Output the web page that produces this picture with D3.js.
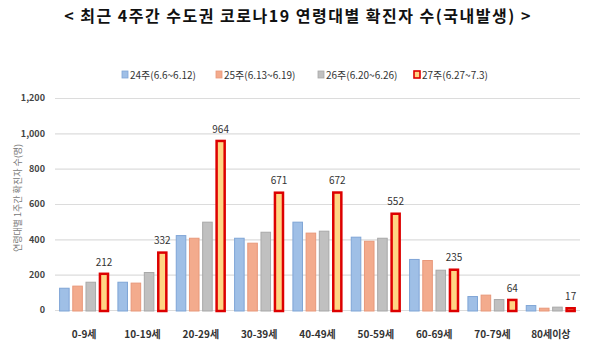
<!DOCTYPE html>
<html><head><meta charset="utf-8">
<script src="https://cdn.jsdelivr.net/npm/d3@7"></script>
<style>
body{margin:0;background:#fff;}
svg{display:block;}
</style></head>
<body>
<svg id="c" width="609" height="357"></svg>
<script>
const categories = ["0-9세","10-19세","20-29세","30-39세","40-49세","50-59세","60-69세","70-79세","80세이상"];
const seriesNames = ["24주(6.6~6.12)","25주(6.13~6.19)","26주(6.20~6.26)","27주(6.27~7.3)"];
const week24 = [126,160,424,409,500,415,289,79,28];
const week25 = [138,155,409,381,438,392,283,87,13];
const week26 = [160,215,500,443,449,409,228,62,19];
const week27 = [212,332,964,671,672,552,235,64,17];
const yTicks = [0,200,400,600,800,1000,1200];
const title = "< 최근 4주간 수도권 코로나19 연령대별 확진자 수(국내발생) >";
const yTitle = "연령대별 1주간 확진자 수(명)";

const series = [week24, week25, week26, week27];
const fills = ["#9fbfe6","#f3ab8d","#c0c0c0","#ffd584"];
const strokes = ["#7fa5d6","#e8987a","#a8a8a8","#dd0000"];
const strokeW = [1,1,1,2.5];

const svg = d3.select("#c");
const narrow = "'Liberation Sans Narrow','Noto Sans CJK KR',sans-serif";

const x0 = d3.scaleBand().domain(categories).range([55,580]).paddingInner(0.14).paddingOuter(0.07);
const x1 = d3.scaleBand().domain(d3.range(4)).range([0,x0.bandwidth()]).paddingInner(0.2);
const y = d3.scaleLinear().domain([0,1200]).range([310,98]);

// title
svg.append("text").attr("x",298).attr("y",22).attr("text-anchor","middle")
  .attr("font-family","'Noto Sans CJK KR',sans-serif").attr("font-weight","bold")
  .attr("font-size",16).attr("letter-spacing",1.5).attr("fill","#111").text(title);

// gridlines
const yAxis = d3.axisLeft(y).tickValues(yTicks).tickSize(-(580-55)).tickFormat(d3.format(","));
const ga = svg.append("g").attr("transform","translate(55,0)").call(yAxis);
ga.select(".domain").remove();
ga.selectAll(".tick line").attr("stroke","#dcdcdc").attr("stroke-width",1.2);
ga.selectAll(".tick text").attr("x",-10).attr("fill","#444").attr("font-family",narrow)
  .attr("font-size",9).attr("font-weight","bold");

// y title
svg.append("text").attr("transform","translate(21,198) rotate(-90)").attr("text-anchor","middle")
  .attr("font-family","'Noto Sans CJK KR',sans-serif").attr("font-size",9).attr("fill","#777")
  .text(yTitle);

// bars
const groups = svg.append("g").selectAll("g").data(categories).join("g")
  .attr("transform",d=>`translate(${x0(d)},0)`);
groups.each(function(cat,ci){
  const g = d3.select(this);
  series.forEach((s,si)=>{
    const v = s[ci];
    const sw = strokeW[si];
    g.append("rect")
      .attr("x",x1(si)+sw/2).attr("y",y(v)+sw/2)
      .attr("width",x1.bandwidth()-sw).attr("height",Math.max(0,y(0)-y(v)+1-sw/2))
      .attr("fill",fills[si]).attr("stroke",strokes[si]).attr("stroke-width",sw);
  });
  g.append("text").attr("x",x1(3)+x1.bandwidth()/2).attr("y",y(week27[ci])-7)
    .attr("text-anchor","middle").attr("font-family",narrow).attr("font-size",10)
    .attr("fill","#333").text(week27[ci]);
});

// x labels
const xAxis = d3.axisBottom(x0).tickSize(0);
const gx = svg.append("g").attr("transform","translate(0,328)").call(xAxis);
gx.select(".domain").remove();
gx.selectAll(".tick text").attr("font-family",narrow).attr("font-size",10).attr("font-weight","bold").attr("fill","#333");

// legend
const legX = [122,216,318,414];
const leg = svg.append("g");
seriesNames.forEach((n,i)=>{
  leg.append("rect").attr("x",legX[i]).attr("y",71).attr("width",6).attr("height",7)
    .attr("fill",fills[i]).attr("stroke",strokes[i]).attr("stroke-width",i===3?1.6:0.8);
  leg.append("text").attr("x",legX[i]+8).attr("y",78.5)
    .attr("font-family",narrow).attr("font-size",10).attr("fill","#333").text(n);
});
</script>
</body></html>
